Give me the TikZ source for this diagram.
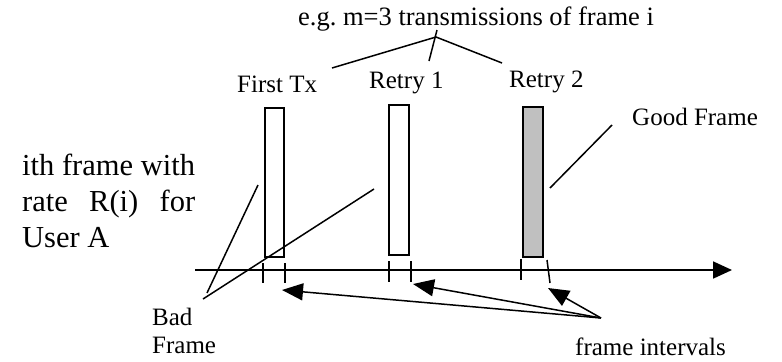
\documentclass[tikz,border=0pt]{standalone}
\usepackage{fontspec}
\setmainfont{Liberation Serif}
\usetikzlibrary{arrows.meta,positioning}
\definecolor{goodfill}{HTML}{C0C0C0}
\frenchspacing

\begin{document}
\begin{tikzpicture}[x=1bp,y=-1bp,
  lbl/.style={font=\fontsize{25bp}{28bp}\selectfont,inner sep=0pt,anchor=base west},
  bar/.style={draw,line width=1.5bp,minimum width=19bp,minimum height=149bp,inner sep=0pt},
  ln/.style={line width=1.5bp},
  ptr/.style={line width=1.5bp,-{Triangle[length=21bp,width=17bp]}}]
  \useasboundingbox (0,0) rectangle (782,361);
  % time axis
  \coordinate (ax0) at (195,270);
  \coordinate (ax1) at (732,270);
  \draw[line width=1.8bp,-{Triangle[length=19bp,width=17bp]}] (ax0) -- (ax1);
  % frames
  \node[bar] (tx0) at (274.5,182.5) {};
  \node[bar,minimum width=20bp,minimum height=150bp] (tx1) at (399,180) {};
  \node[bar,minimum width=20bp,minimum height=150bp,fill=goodfill] (tx2) at (533,182) {};
  % interval ticks
  \foreach \xa/\ya/\xb/\yb in {263/263/263/283, 285/263/285/283, 389/261/389/282,
      411/261/411/282, 521/259/521/280, 547/260/550/283}
    \draw[ln] (\xa,\ya) -- (\xb,\yb);
  % labels
  \node[lbl,font=\fontsize{26.5bp}{30bp}\selectfont] (mtx) at (298,25) {e.g. m=3 transmissions of frame i};
  \node[lbl] (first) at (237,92) {First Tx};
  \node[lbl] (retry1) at (369,88) {Retry 1};
  \node[lbl] (retry2) at (509,87) {Retry 2};
  \node[lbl] (good) at (632,125) {Good Frame};
  \node[lbl,align=left] (bad) at (152,353) {Bad\\Frame};
  \node[lbl] (intv) at (575,355) {frame intervals};
  \node[lbl,align=left,font=\fontsize{30.5bp}{36bp}\selectfont] (ith) at (22,247)
    {ith frame with\\\makebox[173bp][s]{rate R(i) for}\\User A};
  % pointer lines
  \coordinate (fk) at (436,37);
  \coordinate (fkL) at (332,68);
  \coordinate (fkT) at (437,30);
  \coordinate (fkM) at (429,61);
  \coordinate (fkR) at (502,63);
  \draw[ln] (fkL) -- (fk) -- (fkR);
  \draw[ln] (fkT) -- (fkM);
  \coordinate (badA) at (207,293);
  \coordinate (badB) at (203,299);
  \coordinate (badA1) at (258,185);
  \coordinate (badB1) at (374,189);
  \draw[ln] (badA) -- (badA1);
  \draw[ln] (badB) -- (badB1);
  \coordinate (goodA) at (612,125);
  \coordinate (goodB) at (550,188);
  \draw[ln] (goodA) -- (goodB);
  \coordinate (iv) at (601,318);
  \coordinate (iv0) at (282,290);
  \coordinate (iv1) at (413,284);
  \coordinate (iv2) at (548,288);
  \foreach \t in {iv0,iv1,iv2}
    \draw[ptr] (iv) -- (\t);
\end{tikzpicture}
\end{document}
